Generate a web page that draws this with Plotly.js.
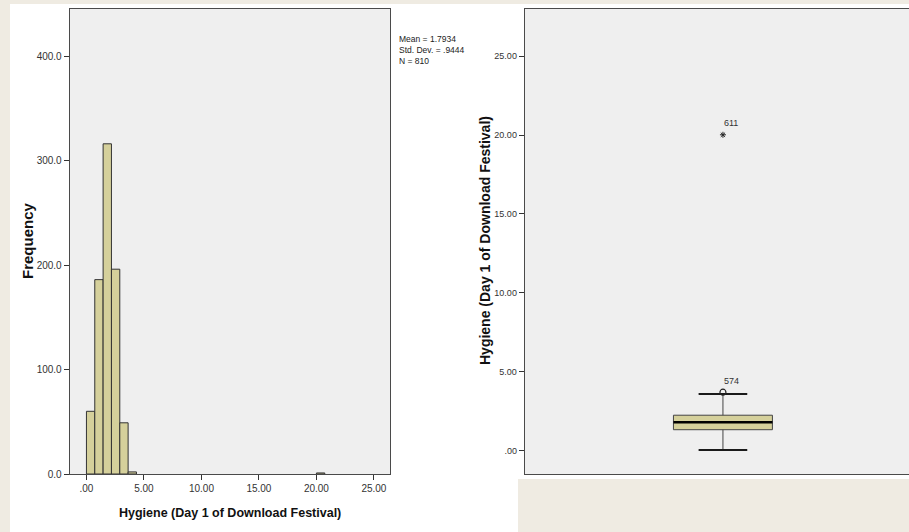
<!DOCTYPE html>
<html>
<head>
<meta charset="utf-8">
<script src="https://cdn.plot.ly/plotly-3.0.1.min.js"></script>
<style>
  html, body { margin: 0; padding: 0; background: #efebe2; }
  #wrap { position: relative; width: 909px; height: 532px; background: #efebe2; overflow: hidden; }
  .panel { position: absolute; background: #ffffff; }
  #chart { position: absolute; left: 0; top: 0; width: 909px; height: 532px; }
</style>
</head>
<body>
<div id="wrap">
  <div class="panel" style="left:10px; top:4px; width:899px; height:475px;"></div>
  <div class="panel" style="left:10px; top:479px; width:508px; height:53px;"></div>
  <div id="chart"></div>
</div>
<script>
// Histogram of day-1 hygiene scores
const binLefts = [0, 0.725, 1.45, 2.175, 2.9, 3.625, 20.0];
const binCounts = [60, 186, 316, 196, 49, 2, 1];
const binWidth = 0.725;
const histXTicks = [0, 5, 10, 15, 20, 25];
const histXTickText = ['.00', '5.00', '10.00', '15.00', '20.00', '25.00'];
const histYTicks = [0, 100, 200, 300, 400];
const statsLines = ['Mean = 1.7934', 'Std. Dev. = .9444', 'N = 810'];

// Boxplot summary of the same variable
const boxQ1 = 1.31;
const boxMedian = 1.79;
const boxQ3 = 2.23;
const boxLowerFence = 0.02;
const boxUpperFence = 3.58;
const outlierValues = [3.69];
const outlierIds = ['574'];
const extremeValues = [20.02];
const extremeIds = ['611'];
const boxYTicks = [0, 5, 10, 15, 20, 25];
const boxYTickText = ['.00', '5.00', '10.00', '15.00', '20.00', '25.00'];

const axisTitle = 'Hygiene (Day 1 of Download Festival)';

const W = 909, H = 532;
const px = v => v / W;
const py = v => 1 - v / H;

const SANS = 'Liberation Sans, Arial, sans-serif';
const barFill = '#d5d09b';
const edge = '#333333';
const tickFont = { family: SANS, size: 10, color: '#333333' };
const BOX_W = 0.5;
const WHISKER_FRAC = 0.49;
const capHalf = BOX_W * WHISKER_FRAC / 2;

const traces = [
  {
    type: 'bar', x: binLefts, y: binCounts, width: binWidth, offset: 0,
    marker: { color: barFill, line: { color: edge, width: 1 } },
    xaxis: 'x', yaxis: 'y', hoverinfo: 'x+y'
  },
  {
    type: 'box', x: [0], q1: [boxQ1], median: [boxMedian], q3: [boxQ3],
    lowerfence: [boxLowerFence], upperfence: [boxUpperFence],
    width: BOX_W, whiskerwidth: WHISKER_FRAC, boxpoints: false,
    fillcolor: barFill, line: { color: '#444444', width: 1 },
    xaxis: 'x2', yaxis: 'y2'
  },
  {
    // heavier median bar across the box
    type: 'scatter', mode: 'lines', x: [-BOX_W / 2, BOX_W / 2], y: [boxMedian, boxMedian],
    line: { color: '#000000', width: 2.5 }, xaxis: 'x2', yaxis: 'y2', hoverinfo: 'skip'
  },
  {
    // heavier whisker caps
    type: 'scatter', mode: 'lines',
    x: [-capHalf, capHalf, null, -capHalf, capHalf],
    y: [boxLowerFence, boxLowerFence, null, boxUpperFence, boxUpperFence],
    line: { color: '#1a1a1a', width: 2 }, xaxis: 'x2', yaxis: 'y2', hoverinfo: 'skip'
  },
  {
    type: 'scatter', mode: 'markers', x: outlierValues.map(() => 0), y: outlierValues,
    marker: { symbol: 'circle-open', size: 6, color: '#222222', line: { width: 1.2 } },
    xaxis: 'x2', yaxis: 'y2'
  },
  {
    type: 'scatter', mode: 'markers', x: extremeValues.map(() => 0), y: extremeValues,
    marker: { symbol: 'asterisk-open', size: 5, color: '#222222', line: { width: 1, color: '#222222' } },
    xaxis: 'x2', yaxis: 'y2'
  }
];

const annotations = [];
annotations.push({
  xref: 'paper', yref: 'paper', x: px(397), y: py(32),
  xanchor: 'left', yanchor: 'top', align: 'left', showarrow: false,
  text: statsLines.join('<br>'),
  font: { family: SANS, size: 8.5, color: '#222222' }
});
outlierValues.forEach((v, i) => {
  annotations.push({
    xref: 'x2', yref: 'y2', x: 0, y: v, xshift: 9, yshift: 11, showarrow: false,
    xanchor: 'center', yanchor: 'middle',
    text: outlierIds[i], font: { family: SANS, size: 9, color: '#333333' }
  });
});
extremeValues.forEach((v, i) => {
  annotations.push({
    xref: 'x2', yref: 'y2', x: 0, y: v, xshift: 8, yshift: 12, showarrow: false,
    xanchor: 'center', yanchor: 'middle',
    text: extremeIds[i], font: { family: SANS, size: 9, color: '#333333' }
  });
});
// axis titles
annotations.push({
  xref: 'paper', yref: 'paper', x: px(28), y: py(241), textangle: -90, showarrow: false,
  xanchor: 'center', yanchor: 'middle',
  text: 'Frequency', font: { family: SANS, size: 15, color: '#111111', weight: 'bold' }
});
annotations.push({
  xref: 'paper', yref: 'paper', x: px(230), y: py(513), showarrow: false,
  xanchor: 'center', yanchor: 'middle',
  text: axisTitle, font: { family: SANS, size: 12.5, color: '#111111', weight: 'bold' }
});
annotations.push({
  xref: 'paper', yref: 'paper', x: px(485), y: py(241), textangle: -90, showarrow: false,
  xanchor: 'center', yanchor: 'middle',
  text: axisTitle, font: { family: SANS, size: 14, color: '#111111', weight: 'bold' }
});

const frame = { showline: true, linecolor: '#4a4a4a', linewidth: 1.3, showgrid: false, zeroline: false };

const layout = {
  width: W, height: H,
  margin: { l: 0, r: 0, t: 0, b: 0 },
  paper_bgcolor: 'rgba(0,0,0,0)',
  plot_bgcolor: '#efefef',
  showlegend: false,
  bargap: 0,
  xaxis: Object.assign({}, frame, {
    domain: [px(70), px(390)], range: [-1.43, 26.4], mirror: true,
    tickmode: 'array', tickvals: histXTicks, ticktext: histXTickText,
    ticks: 'outside', ticklen: 5, tickcolor: edge, tickfont: tickFont, anchor: 'y'
  }),
  yaxis: Object.assign({}, frame, {
    domain: [py(474), py(9)], range: [0, 445], mirror: true,
    tickmode: 'array', tickvals: histYTicks, tickformat: '.1f',
    ticks: 'outside', ticklen: 5, tickcolor: edge, tickfont: tickFont, anchor: 'x'
  }),
  xaxis2: Object.assign({}, frame, {
    domain: [px(525), 1], range: [-1.0, 0.94], mirror: true,
    showticklabels: false, ticks: '', anchor: 'y2'
  }),
  yaxis2: Object.assign({}, frame, {
    domain: [py(474), py(9)], range: [-1.5, 28], mirror: false,
    tickmode: 'array', tickvals: boxYTicks, ticktext: boxYTickText,
    ticks: 'outside', ticklen: 5, tickcolor: edge,
    tickfont: { family: SANS, size: 9, color: '#333333' }, anchor: 'x2'
  }),
  annotations: annotations
};

Plotly.newPlot('chart', traces, layout, { displayModeBar: false, staticPlot: true });
</script>
</body>
</html>
